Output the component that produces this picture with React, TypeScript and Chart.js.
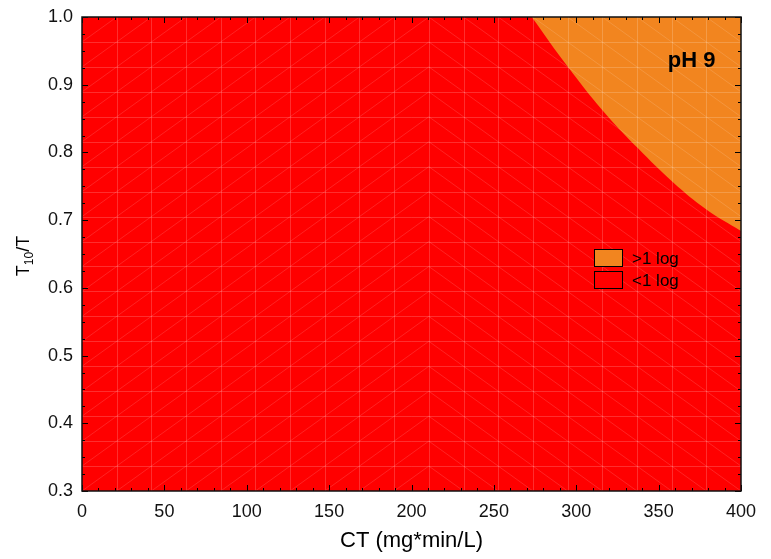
import { useEffect, useRef } from "react";
import { Chart, registerables } from "chart.js";

Chart.register(...registerables);

// ---- data ----
const xRange = [0, 400];
const yRange = [0.3, 1.0];
const xTickStep = 50;
const yTickStep = 0.1;
const xMinorStep = 10;
const yMinorStep = 0.025;

// boundary between "<1 log" (below) and ">1 log" (above) regions
const boundaryCT = [273, 295, 316, 337.5, 358.7, 379.4, 400];
const boundaryT10T = [1.0, 0.926, 0.862, 0.806, 0.756, 0.715, 0.684];

const legendLabels = [">1 log", "<1 log"];
const regionColors = ["#F2851F", "#FF0000"];

const annotationText = "pH 9";
const annotationPos = [370, 0.935];

const xTitle = "CT (mg*min/L)";
const yTitleMain = "T";
const yTitleSub = "10";
const yTitleEnd = "/T";

const meshDivisions = 19;
const meshFlipColumn = 10;

const FONT = "'Liberation Sans', Arial, sans-serif";

const meshPlugin = {
  id: "mesh",
  afterDatasetsDraw(chart: any) {
    const { ctx, chartArea, scales } = chart;
    const xs = scales.x;
    const ys = scales.y;
    const px: number[] = [];
    const py: number[] = [];
    for (let i = 0; i <= meshDivisions; i++) {
      px.push(xs.getPixelForValue(xRange[0] + ((xRange[1] - xRange[0]) * i) / meshDivisions));
      py.push(ys.getPixelForValue(yRange[0] + ((yRange[1] - yRange[0]) * i) / meshDivisions));
    }
    ctx.save();
    ctx.beginPath();
    ctx.rect(chartArea.left, chartArea.top, chartArea.right - chartArea.left, chartArea.bottom - chartArea.top);
    ctx.clip();
    ctx.strokeStyle = "rgba(255,255,255,0.18)";
    ctx.lineWidth = 1;
    ctx.beginPath();
    for (let i = 1; i < meshDivisions; i++) {
      ctx.moveTo(Math.round(px[i]) + 0.5, chartArea.top);
      ctx.lineTo(Math.round(px[i]) + 0.5, chartArea.bottom);
      ctx.moveTo(chartArea.left, Math.round(py[i]) + 0.5);
      ctx.lineTo(chartArea.right, Math.round(py[i]) + 0.5);
    }
    ctx.stroke();
    ctx.strokeStyle = "rgba(255,255,255,0.28)";
    ctx.lineWidth = 0.5;
    ctx.beginPath();
    for (let i = 0; i < meshDivisions; i++) {
      for (let j = 0; j < meshDivisions; j++) {
        if (i < meshFlipColumn) {
          ctx.moveTo(px[i], py[j]);
          ctx.lineTo(px[i + 1], py[j + 1]);
        } else {
          ctx.moveTo(px[i], py[j + 1]);
          ctx.lineTo(px[i + 1], py[j]);
        }
      }
    }
    ctx.stroke();
    ctx.restore();
  },
};

const framePlugin = {
  id: "frame",
  afterDraw(chart: any) {
    const { ctx, chartArea, scales } = chart;
    const { left, right, top, bottom } = chartArea;
    const xs = scales.x;
    const ys = scales.y;
    ctx.save();
    // ticks
    ctx.strokeStyle = "#000";
    ctx.lineWidth = 1;
    ctx.beginPath();
    const nx = Math.round((xRange[1] - xRange[0]) / xMinorStep);
    for (let i = 0; i <= nx; i++) {
      const v = xRange[0] + i * xMinorStep;
      const major = Math.abs(v / xTickStep - Math.round(v / xTickStep)) < 1e-6;
      const len = major ? 6 : 3;
      const x = Math.round(xs.getPixelForValue(v)) + 0.5;
      ctx.moveTo(x, bottom);
      ctx.lineTo(x, bottom - len);
      ctx.moveTo(x, top);
      ctx.lineTo(x, top + len);
    }
    const ny = Math.round((yRange[1] - yRange[0]) / yMinorStep);
    for (let i = 0; i <= ny; i++) {
      const v = yRange[0] + i * yMinorStep;
      const major = i % Math.round(yTickStep / yMinorStep) === 0;
      const len = major ? 6 : 3;
      const y = Math.round(ys.getPixelForValue(v)) + 0.5;
      ctx.moveTo(left, y);
      ctx.lineTo(left + len, y);
      ctx.moveTo(right, y);
      ctx.lineTo(right - len, y);
    }
    ctx.stroke();
    // frame
    ctx.strokeStyle = "#111";
    ctx.lineWidth = 1.5;
    ctx.strokeRect(left, top, right - left, bottom - top);

    // annotation
    ctx.fillStyle = "#000";
    ctx.font = `bold 22px ${FONT}`;
    ctx.textAlign = "center";
    ctx.textBaseline = "middle";
    ctx.fillText(annotationText, xs.getPixelForValue(annotationPos[0]), ys.getPixelForValue(annotationPos[1]));

    // legend
    const lx = 594;
    const ly = 249;
    ctx.font = `17px ${FONT}`;
    ctx.textAlign = "left";
    legendLabels.forEach((lab, k) => {
      const by = ly + k * 22;
      ctx.fillStyle = regionColors[k];
      ctx.fillRect(lx, by, 28, 17);
      ctx.strokeStyle = "#000";
      ctx.lineWidth = 1;
      ctx.strokeRect(lx + 0.5, by + 0.5, 28, 17);
      ctx.fillStyle = "#000";
      ctx.fillText(lab, lx + 38, by + 10);
    });

    // x title
    ctx.font = `22px ${FONT}`;
    ctx.textAlign = "center";
    ctx.textBaseline = "middle";
    ctx.fillText(xTitle, (left + right) / 2, 541);

    // y title with subscript
    const mainFont = `18px ${FONT}`;
    const subFont = `12px ${FONT}`;
    ctx.font = mainFont;
    const w1 = ctx.measureText(yTitleMain).width;
    const w3 = ctx.measureText(yTitleEnd).width;
    ctx.font = subFont;
    const w2 = ctx.measureText(yTitleSub).width;
    const total = w1 + w2 + w3;
    ctx.translate(23, (top + bottom) / 2 + 2);
    ctx.rotate(-Math.PI / 2);
    ctx.textAlign = "left";
    ctx.textBaseline = "alphabetic";
    let cx = -total / 2;
    ctx.font = mainFont;
    ctx.fillText(yTitleMain, cx, 6);
    cx += w1;
    ctx.font = subFont;
    ctx.fillText(yTitleSub, cx, 10);
    cx += w2;
    ctx.font = mainFont;
    ctx.fillText(yTitleEnd, cx, 6);
    ctx.restore();
  },
};

export default function App() {
  const ref = useRef<HTMLCanvasElement | null>(null);
  useEffect(() => {
    if (!ref.current) return;
    const redData = [
      { x: xRange[0], y: yRange[1] },
      { x: xRange[1], y: yRange[1] },
    ];
    const orangeData = boundaryCT.map((x, i) => ({ x, y: boundaryT10T[i] }));
    const chart = new Chart(ref.current, {
      type: "line",
      data: {
        datasets: [
          {
            label: legendLabels[0],
            data: orangeData,
            fill: "end",
            backgroundColor: regionColors[0],
            borderWidth: 0,
            pointRadius: 0,
            tension: 0.4,
            capBezierPoints: false,
            order: 0,
          },
          {
            label: legendLabels[1],
            data: redData,
            fill: "start",
            backgroundColor: regionColors[1],
            borderWidth: 0,
            pointRadius: 0,
            order: 1,
          },
        ],
      },
      options: {
        animation: false,
        responsive: true,
        maintainAspectRatio: false,
        layout: { padding: { top: 17, right: 30, left: 0, bottom: 0 } },
        plugins: { legend: { display: false }, tooltip: { enabled: false } },
        scales: {
          x: {
            type: "linear",
            min: xRange[0],
            max: xRange[1],
            grid: { display: false, drawTicks: false },
            border: { display: false },
            ticks: {
              stepSize: xTickStep,
              padding: 10,
              color: "#111",
              font: { family: FONT, size: 18 },
              maxRotation: 0,
            },
            afterFit: (s: any) => {
              s.height = 68;
              s.paddingLeft = 0;
              s.paddingRight = 0;
            },
          },
          y: {
            type: "linear",
            min: yRange[0],
            max: yRange[1],
            grid: { display: false, drawTicks: false },
            border: { display: false },
            ticks: {
              stepSize: yTickStep,
              padding: 9,
              color: "#111",
              font: { family: FONT, size: 18 },
              callback: (v: any) => Number(v).toFixed(1),
            },
            afterFit: (s: any) => {
              s.width = 82;
              s.paddingTop = 0;
              s.paddingBottom = 0;
            },
          },
        },
      },
      plugins: [meshPlugin, framePlugin],
    } as any);
    return () => chart.destroy();
  }, []);
  return (
    <div style={{ position: "fixed", left: 0, top: 0, width: 771, height: 559, background: "#fff" }}>
      <canvas ref={ref} />
    </div>
  );
}
